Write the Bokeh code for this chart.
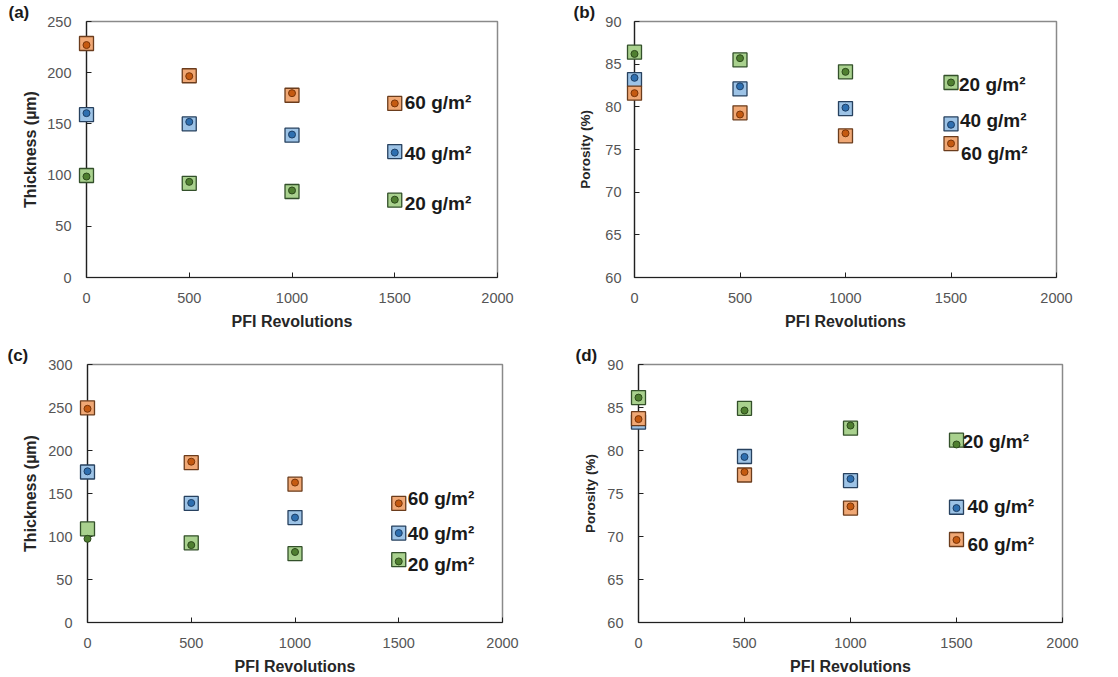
from bokeh.plotting import figure
from bokeh.models import Range1d, FixedTicker, Label
from bokeh.layouts import row, column
from bokeh.embed import file_html
from bokeh.resources import INLINE

# ---------------- data ----------------
revs = [0, 500, 1000, 1500]
x_ticks = [0, 500, 1000, 1500, 2000]
grammages = ["20 g/m\u00b2", "40 g/m\u00b2", "60 g/m\u00b2"]

# panel (a) thickness
a_sq_20 = [99.6, 92, 84, 75.5]
a_ci_20 = [98.6, 93.4, 85, 76]
a_sq_40 = [159, 150, 139, 123]
a_ci_40 = [160.5, 152, 139.6, 122]
a_sq_60 = [228.5, 197, 178, 170]
a_ci_60 = [227, 196.6, 180, 170]
a_yticks = [0, 50, 100, 150, 200, 250]

# panel (b) porosity
b_sq_20 = [86.4, 85.5, 84.1, 82.85]
b_ci_20 = [86.2, 85.7, 84.1, 82.85]
b_sq_40 = [83.2, 82.1, 79.8, 78.0]
b_ci_40 = [83.4, 82.4, 79.9, 77.9]
b_sq_60 = [81.6, 79.3, 76.6, 75.7]
b_ci_60 = [81.6, 79.1, 76.9, 75.7]
b_yticks = [60, 65, 70, 75, 80, 85, 90]

# panel (c) thickness
c_sq_20 = [108.8, 92.7, 80, 73]
c_ci_20 = [97.3, 90, 82, 71]
c_sq_40 = [175, 138.5, 122, 104]
c_ci_40 = [175.8, 139, 122, 104]
c_sq_60 = [249.6, 185.8, 160.8, 138.5]
c_ci_60 = [248.5, 187, 162.7, 138.5]
c_yticks = [0, 50, 100, 150, 200, 250, 300]

# panel (d) porosity
d_sq_20 = [86.15, 84.9, 82.6, 81.2]
d_ci_20 = [86.15, 84.65, 82.9, 80.7]
d_sq_40 = [83.3, 79.3, 76.5, 73.4]
d_ci_40 = [83.3, 79.25, 76.7, 73.3]
d_sq_60 = [83.7, 77.15, 73.3, 69.65]
d_ci_60 = [83.65, 77.5, 73.5, 69.6]
d_yticks = [60, 65, 70, 75, 80, 85, 90]

# ---------------- styles ----------------
FONT = "Liberation Sans"
SQ_FILL = {"20": "#a9d18e", "40": "#9dc3e6", "60": "#f0a875"}
SQ_LINE = {"20": "#33502a", "40": "#27415f", "60": "#6b3c1c"}
CI_FILL = {"20": "#4f7f30", "40": "#2e6fb0", "60": "#c55a11"}
CI_LINE = {"20": "#2d4a1c", "40": "#1d3f66", "60": "#7a3508"}


def make_panel(tag, tag_offset, ylabel, ylabel_size, ylabel_standoff,
               ylo, yhi, yticks, series, names, offs,
               frame_w, frame_h, borders, ytick_standoff):
    bl, br, bt, bb = borders
    p = figure(frame_width=frame_w, frame_height=frame_h,
               output_backend="svg", toolbar_location=None,
               x_range=Range1d(0, 2000), y_range=Range1d(ylo, yhi),
               min_border_left=bl, min_border_right=br,
               min_border_top=bt, min_border_bottom=bb)
    p.xgrid.visible = False
    p.ygrid.visible = False
    p.outline_line_color = "#8a8a8a"
    p.outline_line_width = 1.5
    p.background_fill_color = "white"
    p.border_fill_color = "white"

    p.title.text = tag
    p.title.align = "left"
    p.title.offset = tag_offset
    p.title.standoff = 0
    p.title.text_font = FONT
    p.title.text_font_size = "17px"
    p.title.text_font_style = "bold"
    p.title.text_color = "#1a1a1a"

    p.xaxis.ticker = FixedTicker(ticks=x_ticks)
    p.yaxis.ticker = FixedTicker(ticks=yticks)
    for ax in (p.xaxis[0], p.yaxis[0]):
        ax.major_tick_in = 5
        ax.major_tick_out = 0
        ax.minor_tick_line_color = None
        ax.axis_line_color = "#202020"
        ax.axis_line_width = 1.2
        ax.major_tick_line_color = "#202020"
        ax.major_label_text_font = FONT
        ax.major_label_text_font_size = "14.5px"
        ax.major_label_text_color = "#555555"
        ax.axis_label_text_font = FONT
        ax.axis_label_text_font_style = "bold"
        ax.axis_label_text_color = "#262626"
    p.xaxis.axis_label = "PFI Revolutions"
    p.xaxis.axis_label_text_font_size = "16px"
    p.yaxis.axis_label = ylabel
    p.yaxis.axis_label_text_font_size = ylabel_size
    p.xaxis.major_label_standoff = 15
    p.xaxis.axis_label_standoff = 7
    p.yaxis.major_label_standoff = ytick_standoff
    p.yaxis.axis_label_standoff = ylabel_standoff

    for key, sq, ci in series:
        r1 = p.scatter(revs, sq, marker="square", size=14,
                       fill_color=SQ_FILL[key], line_color=SQ_LINE[key],
                       line_width=1.3)
        r2 = p.scatter(revs, ci, marker="circle", size=7,
                       fill_color=CI_FILL[key], line_color=CI_LINE[key],
                       line_width=1)
        r1.level = "overlay"
        r2.level = "overlay"

    for (key, sq, ci), name, (dx, dy) in zip(series, names, offs):
        p.add_layout(Label(x=revs[-1], y=sq[-1], text=name, x_offset=dx,
                           y_offset=-dy, text_font=FONT,
                           text_font_size="19px", text_font_style="bold",
                           text_color="#1a1a1a", text_baseline="middle",
                           text_align="left"))
    return p


pa = make_panel("(a)", -78, "Thickness (\u00b5m)", "16px", 5, 0, 250, a_yticks,
                [("60", a_sq_60, a_ci_60), ("40", a_sq_40, a_ci_40), ("20", a_sq_20, a_ci_20)],
                [grammages[2], grammages[1], grammages[0]],
                [(10, -1), (10, 2), (10, 3)],
                411, 256, (86, 61, 21, 56), 15)
pb = make_panel("(b)", -61, "Porosity (%)", "13.5px", 9, 60, 90, b_yticks,
                [("20", b_sq_20, b_ci_20), ("40", b_sq_40, b_ci_40), ("60", b_sq_60, b_ci_60)],
                [grammages[0], grammages[1], grammages[2]],
                [(8, 2), (9, -3), (10, 10)],
                422, 256, (76, 52, 21, 56), 13)
pc = make_panel("(c)", -80, "Thickness (\u00b5m)", "16px", 6, 0, 300, c_yticks,
                [("60", c_sq_60, c_ci_60), ("40", c_sq_40, c_ci_40), ("20", c_sq_20, c_ci_20)],
                [grammages[2], grammages[1], grammages[0]],
                [(9, -5), (9, 0), (9, 5)],
                415, 258, (87, 56, 31, 55), 15)
pd_ = make_panel("(d)", -63, "Porosity (%)", "13.5px", 6, 60, 90, d_yticks,
                 [("20", d_sq_20, d_ci_20), ("40", d_sq_40, d_ci_40), ("60", d_sq_60, d_ci_60)],
                 [grammages[0], grammages[1], grammages[2]],
                 [(6, 1), (11, -1), (11, 5)],
                 424, 258, (80, 48, 31, 55), 15)

layout = column(row(pa, pb, spacing=0), row(pc, pd_, spacing=0), spacing=0)
open("out.html", "w").write(file_html(layout, INLINE))
